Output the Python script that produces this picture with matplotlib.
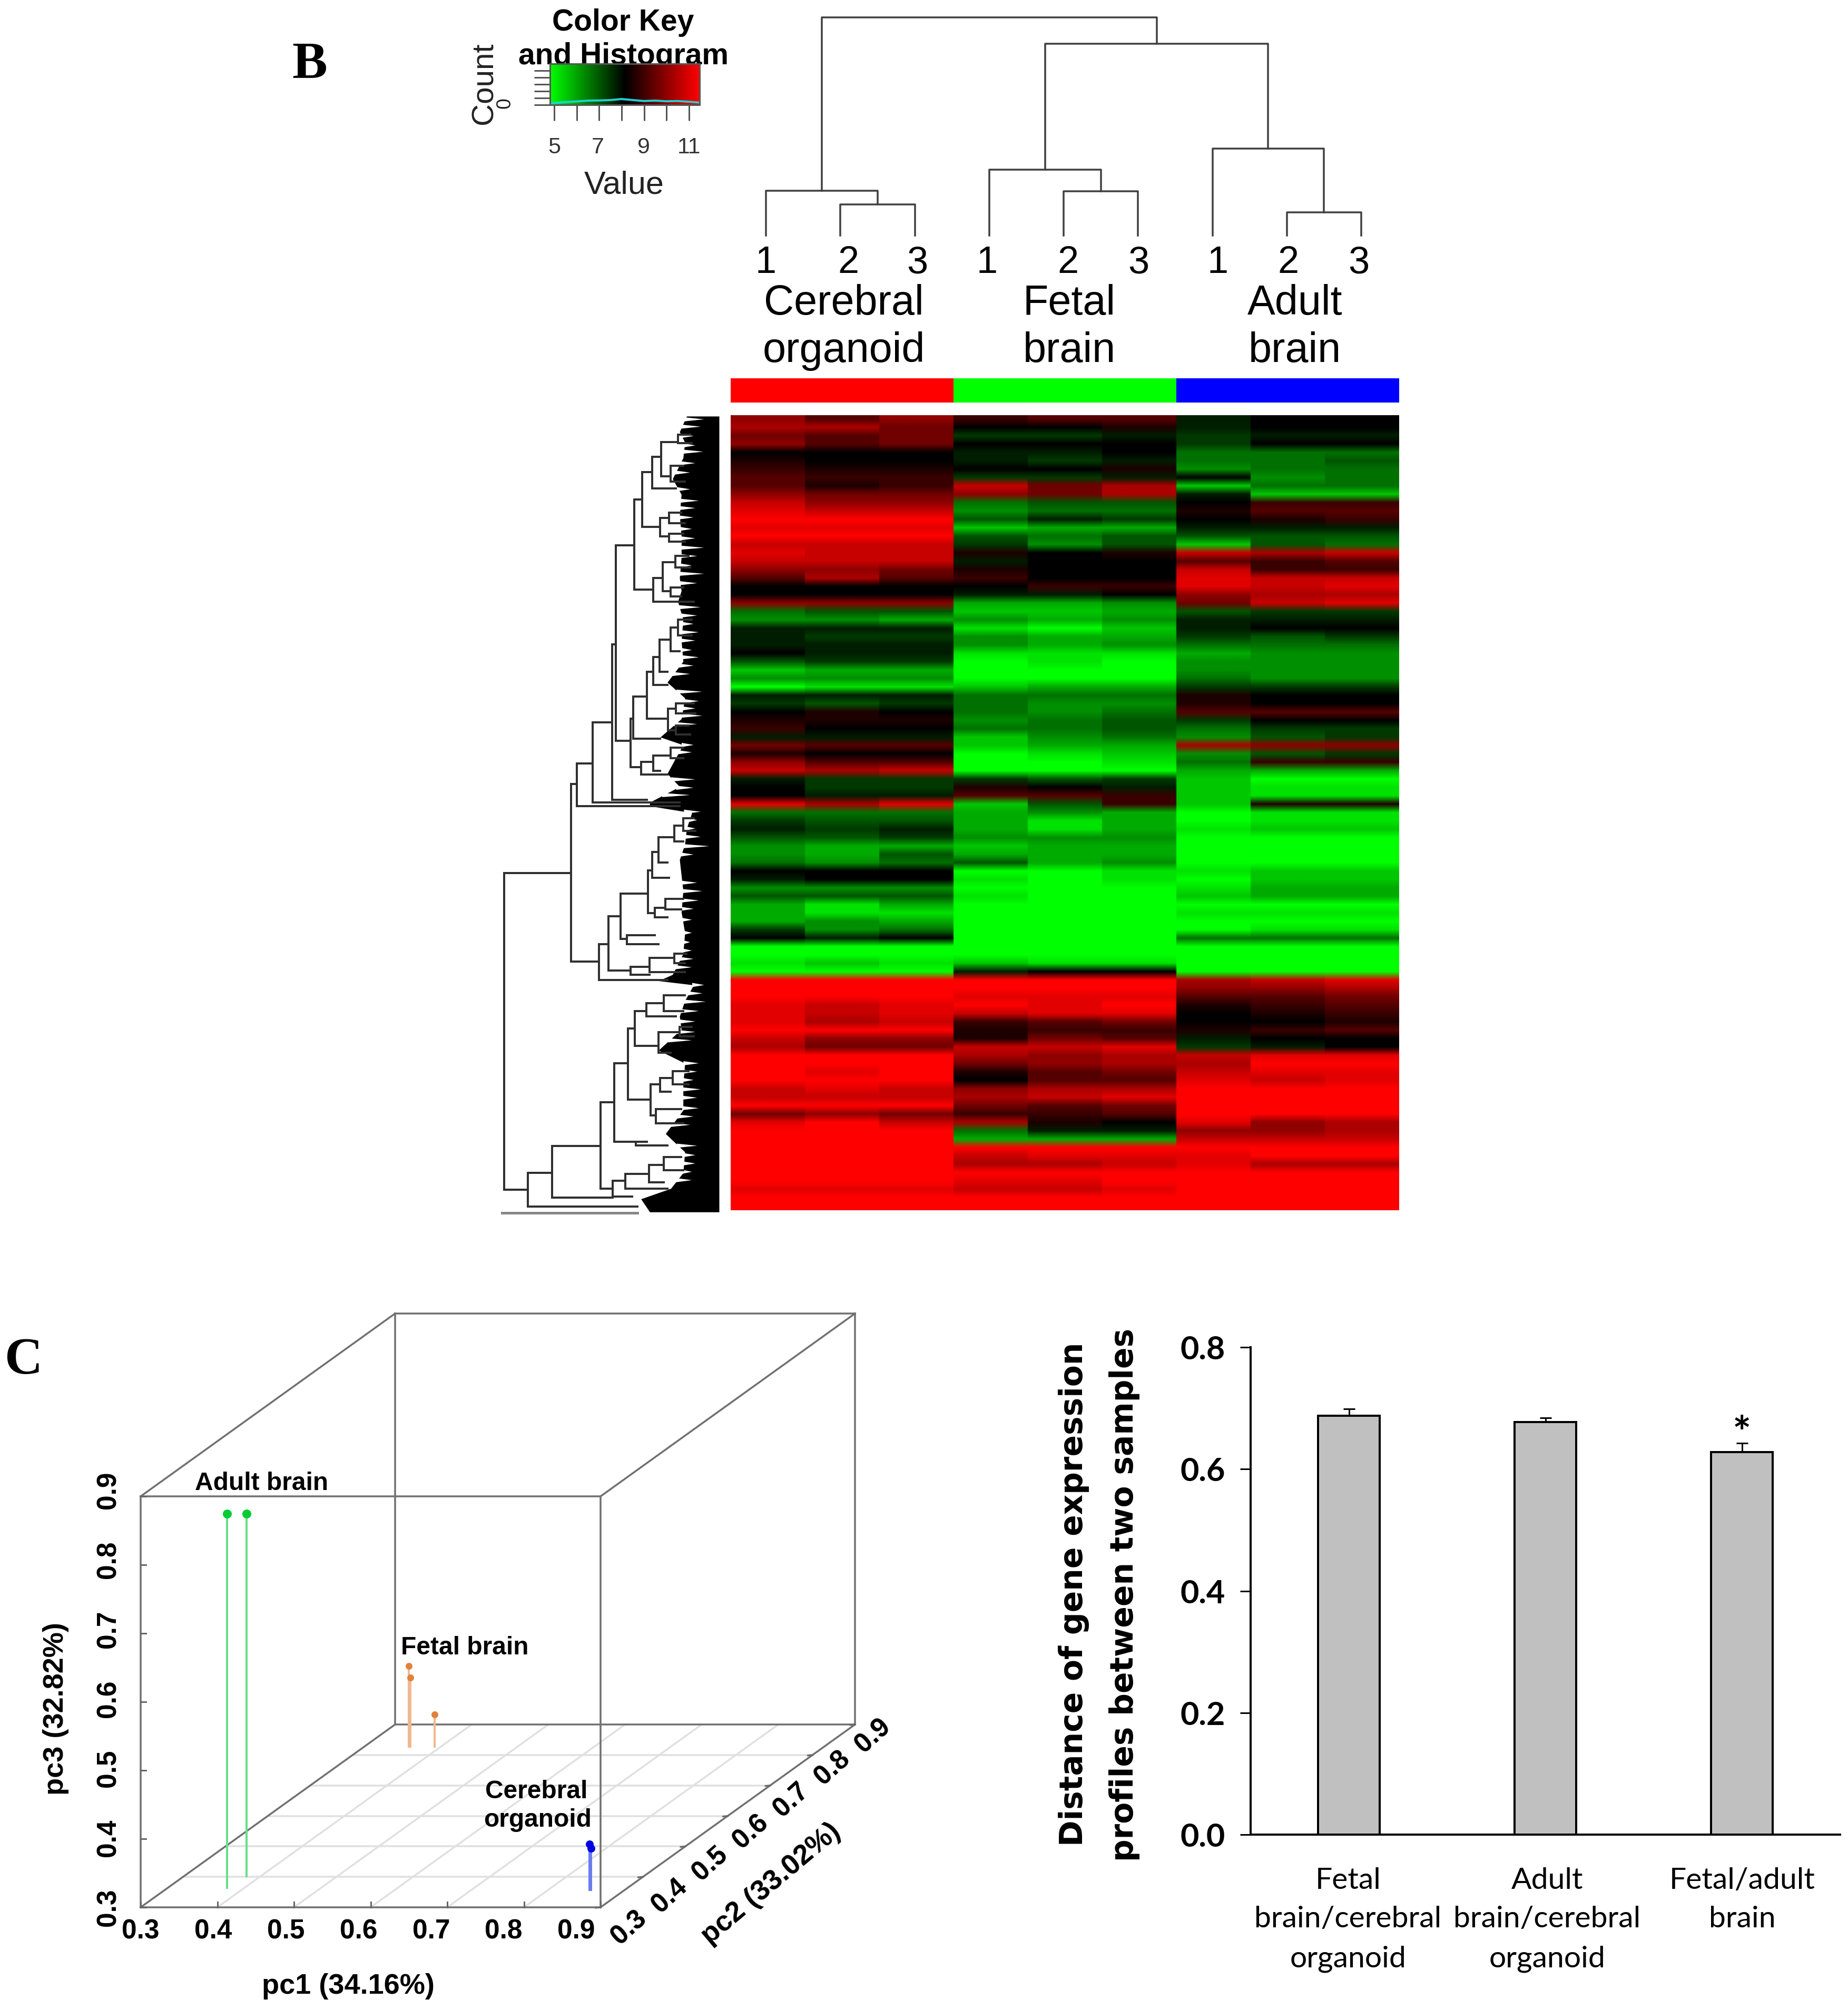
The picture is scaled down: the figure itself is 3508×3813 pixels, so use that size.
import numpy as np
import matplotlib
matplotlib.use("Agg")
import matplotlib.pyplot as plt
from matplotlib.colors import LinearSegmentedColormap

W, H = 3508, 3813

# heatmap rows, -9 = full green, 9 = full red
heat_organoid = [
    [5,3,5],[6,6,4],[4,3,4],[5,3,4],[0,0,0],[1,0,0],[2,1,1],[3,2,2],[3,1,2],[5,4,4],
    [7,5,5],[8,7,7],[9,9,9],[8,8,8],[9,9,9],[7,7,7],[8,7,7],[7,7,7],[5,5,4],[3,6,3],
    [0,0,0],[0,0,0],[5,5,5],[-4,-3,-3],[-5,-5,-6],[-1,-1,-1],[-1,-2,-2],[-1,-1,-1],[0,-1,-1],[-3,-2,-2],
    [-7,-6,-6],[-5,-5,-5],[-9,-8,-8],[-1,-1,-1],[-2,-3,-2],[0,1,0],[1,1,1],[2,0,0],[-1,-1,-1],[4,3,3],
    [1,0,0],[5,3,3],[7,6,7],[-1,-2,-2],[0,-2,-2],[0,-1,-1],[8,6,8],[-4,-4,-4],[-2,-3,-3],[-1,-2,-1],
    [-3,-3,-2],[-5,-6,-6],[-5,-6,-3],[-4,-5,-4],[0,0,0],[-1,0,0],[-5,-5,-5],[-3,-3,-3],[-6,-8,-6],[-6,-8,-8],
    [-6,-5,-6],[-2,-5,-4],[0,-1,0],[-9,-9,-9],[-9,-9,-9],[-8,-7,-8],[-9,-9,-9],[9,9,9],[9,9,9],[9,9,9],
    [8,7,8],[8,7,8],[8,6,7],[9,9,9],[7,5,5],[6,4,4],[9,9,9],[9,9,9],[9,8,9],[9,9,9],
    [7,8,7],[7,7,7],[9,9,9],[4,5,4],[8,9,7],[9,9,9],[9,9,9],[9,9,9],[9,9,9],[9,9,9],
    [9,9,9],[9,9,9],[8,8,8],[9,9,9],[9,9,9],
]
heat_fetal = [
    [2,3,3],[0,0,1],[-2,-2,-1],[0,0,0],[-1,-1,0],[-1,-2,-1],[0,0,1],[-2,-2,-1],[7,4,6],[5,4,6],
    [-4,-3,-3],[-5,-4,-4],[-3,-1,-2],[-7,-6,-6],[-3,-4,-3],[-2,-5,-3],[1,0,1],[-1,0,0],[1,0,0],[2,0,0],
    [0,2,2],[-1,-1,0],[-6,-6,-5],[-7,-7,-6],[-5,-6,-5],[-8,-9,-7],[-5,-6,-6],[-5,-6,-5],[-8,-8,-8],[-9,-8,-9],
    [-9,-9,-9],[-9,-9,-9],[-7,-6,-6],[-4,-4,-4],[-4,-5,-5],[-4,-5,-4],[-5,-4,-3],[-4,-4,-3],[-7,-5,-4],[-7,-6,-6],
    [-9,-8,-7],[-9,-9,-8],[-9,-9,-9],[-2,-3,-2],[1,0,-1],[3,3,2],[-7,-3,2],[-6,-5,-6],[-6,-8,-6],[-6,-8,-6],
    [-5,-5,-5],[-7,-6,-6],[-6,-6,-6],[-3,-6,-5],[-9,-9,-8],[-8,-9,-8],[-9,-9,-9],[-8,-9,-9],[-9,-9,-9],[-9,-9,-9],
    [-9,-9,-9],[-9,-9,-9],[-9,-9,-9],[-9,-9,-9],[-9,-9,-9],[-7,-8,-8],[-1,0,0],[9,9,9],[9,9,9],[8,8,8],
    [9,8,9],[7,8,8],[2,3,4],[1,2,2],[1,4,3],[7,7,8],[6,5,6],[4,5,6],[1,3,4],[0,3,3],
    [5,6,6],[6,7,8],[4,3,4],[2,2,3],[6,1,0],[-4,-1,-1],[-6,-6,-6],[9,9,9],[7,8,8],[6,6,7],
    [9,9,9],[8,8,9],[7,7,8],[9,9,9],[9,9,9],
]
heat_adult = [
    [-1,0,0],[-1,0,0],[-2,-1,-1],[-2,0,0],[-4,-4,-4],[-4,-4,-3],[-5,-4,-4],[0,-5,-4],[-7,-4,-4],[-1,-7,-7],
    [0,2,2],[1,3,3],[0,1,2],[-1,-1,-1],[-3,-3,-3],[-7,-3,-4],[7,6,7],[3,2,3],[7,2,2],[8,7,7],
    [8,7,8],[5,6,6],[4,7,8],[-3,-2,-2],[-1,-1,-1],[-1,0,0],[-2,-3,-2],[-4,-4,-4],[-6,-5,-5],[-5,-5,-5],
    [-5,-5,-5],[-4,-5,-5],[-2,-2,-2],[1,0,0],[1,0,0],[3,3,3],[-2,0,0],[-4,-2,-2],[-5,-3,-2],[6,5,5],
    [-5,-3,-2],[-4,2,2],[-6,-6,-6],[-7,-9,-9],[-7,-8,-8],[-7,-8,-8],[-7,1,1],[-9,-8,-8],[-9,-8,-8],[-8,-7,-7],
    [-9,-9,-9],[-9,-9,-9],[-9,-9,-9],[-9,-9,-9],[-8,-7,-7],[-9,-7,-7],[-8,-6,-6],[-7,-6,-6],[-9,-9,-9],[-8,-8,-8],
    [-9,-9,-9],[-9,-8,-8],[-4,-4,-4],[-9,-9,-9],[-9,-9,-9],[-9,-9,-9],[-9,-9,-9],[6,7,8],[5,5,6],[3,3,4],
    [1,2,3],[0,1,2],[0,0,1],[1,2,3],[-1,0,0],[-2,-1,0],[7,8,8],[6,9,9],[7,8,8],[8,7,8],
    [9,9,9],[9,9,9],[9,9,9],[9,9,9],[8,5,6],[5,5,6],[7,7,7],[9,9,9],[8,9,9],[8,6,6],
    [9,9,9],[9,9,9],[9,9,9],[9,9,9],[9,9,9],
]
sample_groups = ["Cerebral\norganoid", "Fetal\nbrain", "Adult\nbrain"]
group_colors = ["#ff0000", "#00ff00", "#0000ff"]

# column dendrogram heights
col_leaves = [0, 1, 2, 3, 4, 5, 6, 7, 8]
col_merge_23 = [59, 84, 44]
col_merge_1 = [85, 125, 165]
col_merge_fa = 364
col_merge_root = 414

# row dendrogram: x of node, y top, x of top child, y bottom, x of bottom child
row_merges = [
    (170, 885, 552, 1492, 305), (552, 715, 585, 1055, 712), (585, 675, 675, 757, 1170),
    (675, 597, 785, 750, 1170), (785, 447, 808, 745, 985), (808, 257, 912, 632, 892),
    (912, 170, 958, 342, 1020), (958, 117, 1015, 222, 1060), (1015, 88, 1065, 148, 1150),
    (1065, 60, 1160, 125, 1120), (1160, 45, 1230, 62, 1240), (1120, 105, 1190, 135, 1200),
    (1060, 205, 1110, 240, 1110), (1110, 195, 1180, 215, 1200), (1110, 235, 1190, 250, 1200),
    (1020, 320, 1075, 365, 1250), (1075, 290, 1145, 345, 1120), (1145, 278, 1220, 300, 1230),
    (1120, 338, 1190, 355, 1180), (892, 590, 905, 683, 950), (905, 547, 985, 628, 1060),
    (985, 500, 1020, 590, 1105), (1020, 472, 1055, 525, 1100), (1055, 438, 1120, 500, 1100),
    (1120, 415, 1160, 460, 1170), (1160, 400, 1240, 430, 1240), (1105, 570, 1150, 612, 1150),
    (1150, 560, 1250, 580, 1260), (1150, 603, 1220, 620, 1230), (950, 672, 1020, 697, 1100),
    (1020, 660, 1120, 690, 1060), (1120, 645, 1190, 665, 1190), (712, 1022, 765, 1090, 1100),
    (765, 968, 835, 1072, 890), (835, 925, 990, 1012, 870), (990, 880, 1015, 962, 1030),
    (1015, 845, 1050, 895, 1110), (1050, 817, 1140, 865, 1100), (1140, 795, 1190, 825, 1190),
    (1190, 780, 1250, 805, 1260), (1030, 952, 1090, 970, 1100), (1090, 935, 1190, 955, 1180),
    (870, 1005, 1030, 1022, 1050), (890, 1065, 1000, 1080, 1000), (1000, 1048, 1140, 1075, 1200),
    (1140, 1040, 1210, 1058, 1200), (305, 1460, 445, 1525, 930), (445, 1408, 720, 1507, 790),
    (720, 1325, 797, 1490, 790), (797, 1250, 875, 1400, 920), (875, 1183, 915, 1320, 1005),
    (915, 1150, 980, 1217, 1050), (980, 1135, 1080, 1160, 1150), (1080, 1120, 1200, 1150, 1190),
    (1050, 1190, 1170, 1230, 1120), (1170, 1180, 1240, 1198, 1250), (1005, 1290, 1060, 1350, 1035),
    (1060, 1278, 1130, 1305, 1120), (1130, 1265, 1220, 1290, 1220), (1035, 1338, 1180, 1365, 1190),
    (920, 1400, 985, 1407, 1100), (790, 1475, 860, 1505, 900), (860, 1462, 995, 1490, 1100),
    (995, 1445, 1080, 1478, 1080), (1080, 1430, 1180, 1455, 1190),
]
# left edge of the black leaf mass
row_mass_y = [10, 40, 60, 90, 130, 160, 200, 240, 280, 320, 345, 365, 400, 440, 480, 520, 550, 590, 625, 640,
              670, 695, 720, 750, 757, 770, 800, 830, 860, 890, 920, 960, 1000, 1040, 1080, 1092, 1100, 1130,
              1160, 1185, 1225, 1250, 1290, 1340, 1385, 1420, 1460, 1490, 1510, 1525, 1535]
row_mass_x = [1210, 1170, 1200, 1190, 1130, 1180, 1170, 1180, 1180, 1170, 1180, 1160, 1190, 1180, 1190, 1100,
              1200, 1180, 1060, 1190, 1140, 1100, 1170, 1000, 1000, 1240, 1210, 1200, 1170, 1180, 1190, 1180,
              1200, 1190, 1130, 1050, 1250, 1200, 1170, 1180, 1050, 1200, 1190, 1190, 1090, 1200, 1190, 1120,
              950, 980, 1000]
# white slits that run into the mass: y and how far right they reach
row_slit_y = [16, 30, 48, 66, 78, 100, 118, 150, 172, 186, 204, 226, 244, 262, 278, 296, 312, 330, 376, 392,
              408, 424, 440, 458, 472, 488, 504, 538, 556, 570, 584, 600, 640, 654, 706, 722, 736, 768, 784,
              800, 816, 834, 850, 904, 920, 938, 954, 975, 1000, 1018, 1034, 1050, 1066, 1100, 1116, 1132,
              1150, 1170, 1190, 1206, 1250, 1266, 1282, 1300, 1316, 1336, 1352, 1368, 1408, 1426, 1442, 1458,
              1474]
row_slit_x = [1310, 1290, 1250, 1260, 1305, 1260, 1230, 1230, 1280, 1260, 1250, 1240, 1260, 1310, 1270, 1240,
              1310, 1270, 1290, 1270, 1250, 1280, 1260, 1240, 1280, 1250, 1230, 1300, 1280, 1260, 1300, 1270,
              1250, 1240, 1260, 1250, 1230, 1290, 1270, 1260, 1290, 1340, 1250, 1270, 1300, 1280, 1250, 1240,
              1240, 1230, 1240, 1250, 1240, 1310, 1300, 1320, 1280, 1260, 1260, 1240, 1280, 1270, 1250, 1290,
              1270, 1280, 1250, 1230, 1270, 1260, 1260, 1240, 1240]

# colour key
key_ticks = [5, 6, 7, 8, 9, 10, 11]
key_labels = ["5", "7", "9", "11"]
key_hist_x = [4.9, 5.5, 6, 6.5, 7, 7.5, 8, 8.5, 9, 9.5, 10, 10.5, 11, 11.4]
key_hist_y = [250, 420, 500, 620, 640, 700, 850, 700, 560, 620, 520, 560, 450, 350]

# PCA points
adult_pc = ([0.377, 0.382], [0.364, 0.402], [0.846, 0.829])
fetal_pc = ([0.358, 0.360, 0.392], [0.827, 0.827, 0.827], [0.418, 0.401, 0.347])
organoid_pc = ([0.854, 0.856], [0.357, 0.357], [0.367, 0.361])
pc_ticks = [0.3, 0.4, 0.5, 0.6, 0.7, 0.8, 0.9]

# bars
bar_labels = ["Fetal\nbrain/cerebral\norganoid", "Adult\nbrain/cerebral\norganoid", "Fetal/adult\nbrain"]
bar_values = [0.688, 0.677, 0.628]
bar_errors = [0.011, 0.007, 0.015]


def px_axes(x0, y0, x1, y1):
    return fig.add_axes([x0 / W, 1 - y1 / H, (x1 - x0) / W, (y1 - y0) / H])


def pt(px):
    return px * 0.72


fig = plt.figure(figsize=(W / 100, H / 100), dpi=100, facecolor="white")
canvas = px_axes(0, 0, W, H)
canvas.set_xlim(0, W)
canvas.set_ylim(H, 0)
canvas.axis("off")

sans = "Liberation Sans"
canvas.text(588, 123, "B", family="Liberation Serif", weight="bold", size=72, ha="center", va="center")
canvas.text(44, 2583, "C", family="Liberation Serif", weight="bold", size=72, ha="center", va="center")

# heatmap, sharp between samples and soft between rows like the source image
gr = LinearSegmentedColormap.from_list("gr", ["#00ff00", "#000000", "#ff0000"])
heat = np.hstack([np.array(heat_organoid), np.array(heat_fetal), np.array(heat_adult)])
ax = px_axes(1387, 788, 2656, 2297)
ax.imshow(np.repeat(heat, 60, axis=1), aspect="auto", cmap=gr, vmin=-9, vmax=9, interpolation="bilinear")
ax.axis("off")

# side colour bar
ax = px_axes(1387, 718, 2656, 764)
for i, c in enumerate(group_colors):
    ax.barh(0, 1, left=i, height=1, color=c)
ax.set_xlim(0, 3)
ax.set_ylim(-0.5, 0.5)
ax.axis("off")

# column dendrogram
ax = px_axes(1454, 20, 2584, 447)
ax.set_xlim(0, 8)
ax.set_ylim(0, 427)
ax.axis("off")
line = dict(color="#404040", lw=pt(3.5), solid_capstyle="projecting", clip_on=False)
tops = []
for g in range(3):
    a, b, c = col_leaves[g * 3:g * 3 + 3]
    h2, h1 = col_merge_23[g], col_merge_1[g]
    ax.plot([b, b, c, c], [0, h2, h2, 0], **line)
    mid = (b + c) / 2
    ax.plot([a, a, mid, mid], [0, h1, h1, h2], **line)
    tops.append(((a + mid) / 2, h1))
fa_mid = (tops[1][0] + tops[2][0]) / 2
ax.plot([tops[1][0], tops[1][0], tops[2][0], tops[2][0]], [tops[1][1], col_merge_fa, col_merge_fa, tops[2][1]], **line)
ax.plot([tops[0][0], tops[0][0], fa_mid, fa_mid], [tops[0][1], col_merge_root, col_merge_root, col_merge_fa], **line)

leaf_x = [1454, 1610, 1741, 1874, 2027, 2161, 2312, 2445, 2579]
for i, x in enumerate(leaf_x):
    canvas.text(x, 500, str(i % 3 + 1), family=sans, size=52, ha="center", va="center")
for x, name in zip([1602, 2030, 2458], sample_groups):
    top, bottom = name.split("\n")
    canvas.text(x, 576, top, family=sans, size=57, ha="center", va="center")
    canvas.text(x, 666, bottom, family=sans, size=57, ha="center", va="center")

# row dendrogram, data units are the picture's crop units
ax = px_axes(900, 780, 1400, 2330)
ax.set_xlim(0, 1500)
ax.set_ylim(1565, 0)
ax.axis("off")
ax.fill_betweenx(row_mass_y, row_mass_x, 1395, color="black", lw=0)
mass_at = np.interp(row_slit_y, row_mass_y, row_mass_x)
for y, tip, edge in zip(row_slit_y, row_slit_x, mass_at):
    ax.fill([edge - 8, tip, edge - 8], [y - 4, y, y + 4], color="white", lw=0)
for x, y1, xc1, y2, xc2 in row_merges:
    ax.plot([xc1, x, x, xc2], [y1, y1, y2, y2], color="#303030", lw=pt(4), solid_joinstyle="miter")
ax.plot([160, 930], [1537, 1537], color="#888888", lw=pt(5))

# colour key
ax = px_axes(1044, 121, 1328, 199)
ax.imshow(np.linspace(-1, 1, 256)[None, :], aspect="auto", cmap=gr, extent=[4.81, 11.47, 0, 6000])
ax.plot(key_hist_x, key_hist_y, color="#20d0d0", lw=pt(4))
ax.set_xlim(4.81, 11.47)
ax.set_ylim(0, 6000)
for s in ax.spines.values():
    s.set_color("#555555")
    s.set_linewidth(pt(3))
ax.set_xticks(key_ticks)
ax.set_yticks([0, 1000, 2000, 3000, 4000, 5000])
ax.tick_params(axis="both", length=pt(30), width=pt(3), color="#555555", labelbottom=False, labelleft=False)
for x, lab in zip([1052, 1135, 1222, 1308], key_labels):
    canvas.text(x, 280, lab, family=sans, size=31, color="#333333", ha="center", va="center")
canvas.text(1185, 352, "Value", family=sans, size=44, color="#222222", ha="center", va="center")
canvas.text(1183, 43, "Color Key", family=sans, weight="bold", size=41, ha="center", va="center")
canvas.text(1183, 107, "and Histogram", family=sans, weight="bold", size=41, ha="center", va="center")
canvas.text(919, 158, "Count", family=sans, size=42, color="#222222", rotation=90, ha="center", va="center")
canvas.text(959, 196, "0", family=sans, size=27, color="#222222", rotation=90, ha="center", va="center")


# 3D box, oblique projection of pc1/pc2/pc3 on to canvas pixels
def proj(p1, p2, p3):
    p1, p2, p3 = np.asarray(p1), np.asarray(p2), np.asarray(p3)
    x = 267 + (p1 - 0.3) / 0.6 * 873 + (p2 - 0.3) / 0.6 * 483
    y = 3620 - (p2 - 0.3) / 0.6 * 347 - (p3 - 0.3) / 0.6 * 780
    return x, y


def line3(p, q, **kw):
    x, y = proj(*zip(p, q))
    canvas.plot(x, y, **kw)


lo, hi = pc_ticks[0], pc_ticks[-1]
grid = dict(color="#e0e0e0", lw=pt(3.5))
for t in pc_ticks[1:-1]:
    line3((t, lo, lo), (t, hi, lo), **grid)
    line3((lo, t, lo), (hi, t, lo), **grid)
box = dict(color="#707070", lw=pt(3.5))
for p, q in [((lo, lo, lo), (hi, lo, lo)), ((hi, lo, lo), (hi, lo, hi)), ((hi, lo, hi), (lo, lo, hi)),
             ((lo, lo, hi), (lo, lo, lo)), ((lo, hi, lo), (hi, hi, lo)), ((hi, hi, lo), (hi, hi, hi)),
             ((hi, hi, hi), (lo, hi, hi)), ((lo, hi, hi), (lo, hi, lo)), ((lo, lo, lo), (lo, hi, lo)),
             ((hi, lo, lo), (hi, hi, lo)), ((hi, lo, hi), (hi, hi, hi)), ((lo, lo, hi), (lo, hi, hi))]:
    line3(p, q, **box)

for (p1, p2, p3), stem, dot, msize in [(adult_pc, "#66e08a", "#00cc33", 17),
                                       (fetal_pc, "#f0b890", "#e0823c", 13),
                                       (organoid_pc, "#6a7cf0", "#0000e0", 15)]:
    for a, b, c in zip(p1, p2, p3):
        line3((a, b, lo), (a, b, c), color=stem, lw=pt(4))
    x, y = proj(p1, p2, p3)
    canvas.plot(x, y, "o", color=dot, ms=pt(msize), mew=0)

for t in pc_ticks:
    frac = (t - lo) / (hi - lo)
    x, y = proj(t, lo, lo)
    canvas.plot([x, x], [y, y - 10], color="#666666", lw=pt(3))
    canvas.text(x - 46 * frac, y + 46, f"{t:.1f}", family=sans, weight="bold", size=37, ha="center", va="center")
    x, y = proj(lo, lo, t)
    canvas.plot([x, x + 10], [y, y], color="#666666", lw=pt(3))
    canvas.text(x - 61, y - 12 * frac, f"{t:.1f}", family=sans, weight="bold", size=37, rotation=90,
                ha="center", va="center")
    x, y = proj(hi, t, lo)
    canvas.plot([x, x - 9], [y, y + 1], color="#666666", lw=pt(3))
    canvas.text(x + 54 - 20 * frac, y + 39 - 17 * frac, f"{t:.1f}", family=sans, weight="bold", size=37,
                rotation=42, ha="center", va="center")

canvas.text(661, 3770, "pc1 (34.16%)", family=sans, weight="bold", size=39, ha="center", va="center")
canvas.text(106, 3243, "pc3 (32.82%)", family=sans, weight="bold", size=39, rotation=90, ha="center", va="center")
canvas.text(1464, 3575, "pc2 (33.02%)", family=sans, weight="bold", size=39, rotation=40, ha="center", va="center")
canvas.text(497, 2815, "Adult brain", family=sans, weight="bold", size=34.5, ha="center", va="center")
canvas.text(882, 3127, "Fetal brain", family=sans, weight="bold", size=34.5, ha="center", va="center")
canvas.text(1018, 3400, "Cerebral", family=sans, weight="bold", size=34.5, ha="center", va="center")
canvas.text(1021, 3454, "organoid", family=sans, weight="bold", size=34.5, ha="center", va="center")

# bar chart
ax = px_axes(2374, 2557, 3493, 3482)
pos = range(len(bar_values))
ax.bar(pos, bar_values, width=0.314, color="#c0c0c0", edgecolor="black", lw=pt(4),
       yerr=[[0] * 3, bar_errors], error_kw=dict(ecolor="black", elinewidth=pt(3), capsize=pt(11), capthick=pt(3)))
ax.set_xlim(-0.5, 2.5)
ax.set_ylim(0, 0.8)
ax.set_yticks([0.0, 0.2, 0.4, 0.6, 0.8])
ax.set_yticklabels(["0.0", "0.2", "0.4", "0.6", "0.8"], family="Lato", weight="bold", size=44)
ax.set_xticks(list(pos))
ax.set_xticklabels([])
ax.tick_params(axis="y", length=pt(20), width=pt(3), pad=pt(28))
ax.tick_params(axis="x", length=0)
for side in ["top", "right"]:
    ax.spines[side].set_visible(False)
for side in ["left", "bottom"]:
    ax.spines[side].set_linewidth(pt(4))
ax.text(2, 0.655, "*", family="Lato", weight="bold", size=60, ha="center", va="center")
for x, lab in zip([2559, 2937, 3307], bar_labels):
    for y, part in zip([3569, 3642, 3718], lab.split("\n")):
        canvas.text(x, y, part, family="Lato", size=41, ha="center", va="center")
canvas.text(2038, 3026, "Distance of gene expression", family="DejaVu Sans", weight="bold", size=43,
            rotation=90, ha="center", va="center")
canvas.text(2135, 3027, "profiles between two samples", family="DejaVu Sans", weight="bold", size=43,
            rotation=90, ha="center", va="center")

fig.savefig("out.png", dpi=100)
